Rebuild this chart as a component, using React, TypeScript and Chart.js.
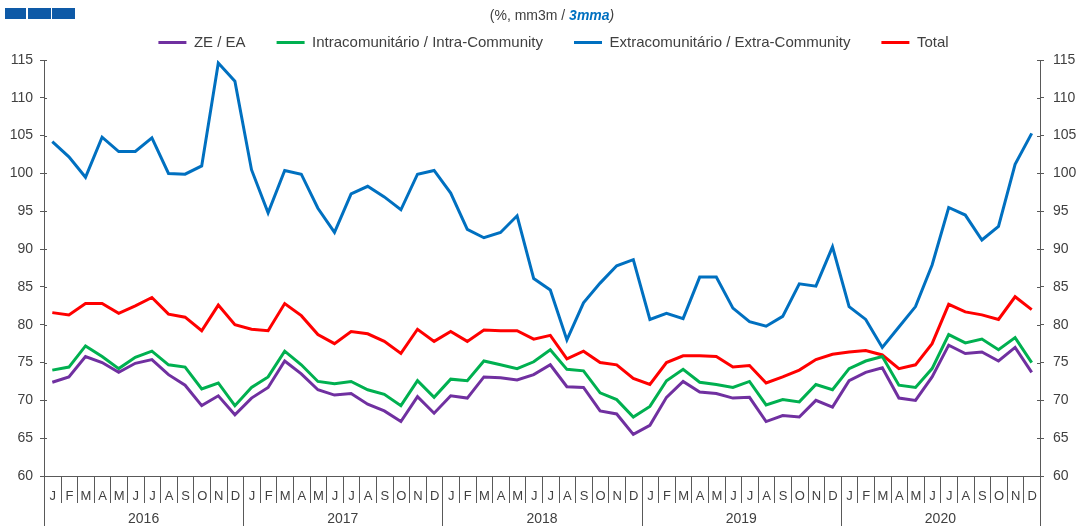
import React, { useEffect, useRef } from 'react';
import { Chart, registerables } from 'chart.js';

Chart.register(...registerables);

const monthLetters = ['J', 'F', 'M', 'A', 'M', 'J', 'J', 'A', 'S', 'O', 'N', 'D'];
const yearLabels = ['2016', '2017', '2018', '2019', '2020'];
const categories = yearLabels.flatMap((y) => monthLetters.map((m) => `${m} ${y}`));

const yTicks = [60, 65, 70, 75, 80, 85, 90, 95, 100, 105, 110, 115];

const zeEa = [
  72.4, 73.1, 75.8, 75.0, 73.7, 74.9, 75.4, 73.4, 72.0, 69.3, 70.6, 68.1,
  70.3, 71.7, 75.2, 73.5, 71.4, 70.7, 70.9, 69.5, 68.6, 67.2, 70.5, 68.3,
  70.6, 70.3, 73.1, 73.0, 72.7, 73.4, 74.7, 71.8, 71.7, 68.6, 68.2, 65.5,
  66.7, 70.4, 72.5, 71.1, 70.9, 70.3, 70.4, 67.2, 68.0, 67.8, 70.0, 69.1,
  72.6, 73.7, 74.3, 70.3, 70.0, 73.1, 77.3, 76.2, 76.4, 75.2, 77.0, 73.7,
];

const intra = [
  74.0, 74.4, 77.2, 75.8, 74.2, 75.7, 76.5, 74.7, 74.4, 71.5, 72.3, 69.3,
  71.7, 73.1, 76.5, 74.7, 72.5, 72.2, 72.5, 71.4, 70.8, 69.3, 72.6, 70.4,
  72.8, 72.6, 75.2, 74.7, 74.2, 75.1, 76.7, 74.1, 73.9, 71.0, 70.1, 67.8,
  69.2, 72.6, 74.1, 72.4, 72.1, 71.7, 72.5, 69.4, 70.1, 69.8, 72.1, 71.4,
  74.2, 75.2, 75.8, 72.0, 71.7, 74.2, 78.7, 77.6, 78.1, 76.7, 78.3, 75.0,
];

const extra = [
  104.2, 102.2, 99.5, 104.8, 102.9, 102.9, 104.7, 100.0, 99.9, 101.0, 114.6, 112.2,
  100.5, 94.8, 100.4, 99.9, 95.4, 92.2, 97.3, 98.3, 96.9, 95.2, 99.9, 100.4,
  97.4, 92.6, 91.5, 92.2, 94.4, 86.1, 84.6, 78.0, 82.9, 85.5, 87.8, 88.6,
  80.7, 81.5, 80.8, 86.3, 86.3, 82.2, 80.4, 79.8, 81.1, 85.4, 85.1, 90.3,
  82.4, 80.7, 77.0, 79.7, 82.4, 87.9, 95.5, 94.5, 91.2, 93.0, 101.2, 105.3,
];

const total = [
  81.6, 81.3, 82.8, 82.8, 81.5, 82.5, 83.6, 81.4, 81.0, 79.2, 82.6, 80.0,
  79.4, 79.2, 82.8, 81.2, 78.7, 77.5, 79.1, 78.8, 77.8, 76.2, 79.4, 77.8,
  79.1, 77.8, 79.3, 79.2, 79.2, 78.1, 78.6, 75.5, 76.5, 75.0, 74.7, 72.9,
  72.1, 75.0, 75.9, 75.9, 75.8, 74.4, 74.6, 72.3, 73.1, 74.0, 75.4, 76.1,
  76.4, 76.6, 76.0, 74.2, 74.7, 77.5, 82.7, 81.7, 81.3, 80.7, 83.7, 82.0,
];

const seriesNames = [
  'ZE / EA',
  'Intracomunitário / Intra-Community',
  'Extracomunitário / Extra-Community',
  'Total',
];
const seriesColors = ['#7030A0', '#00B050', '#0070C0', '#FF0000'];

const FONT = "'Liberation Sans', Arial, sans-serif";
const TEXT = '#404040';
const AXIS = '#595959';

const decorPlugin = {
  id: 'decor',
  afterDraw(chart: any) {
    const ctx = chart.ctx as CanvasRenderingContext2D;
    const xs = chart.scales.x;
    const ys = chart.scales.y;
    const { left, right, bottom } = chart.chartArea;
    const n = categories.length;
    const w = (right - left) / n;
    const H = chart.height;
    ctx.save();

    // month / year separators below the axis
    ctx.strokeStyle = AXIS;
    ctx.lineWidth = 1;
    for (let i = 0; i <= n; i++) {
      const px = i < n ? xs.getPixelForValue(i) - w / 2 : xs.getPixelForValue(n - 1) + w / 2;
      const xx = Math.round(px) + 0.5;
      const isYear = i % 12 === 0;
      ctx.beginPath();
      ctx.moveTo(xx, bottom);
      ctx.lineTo(xx, isYear ? H : bottom + 27);
      ctx.stroke();
    }
    // month letters
    ctx.fillStyle = TEXT;
    ctx.textAlign = 'center';
    ctx.textBaseline = 'middle';
    ctx.font = `13px ${FONT}`;
    for (let i = 0; i < n; i++) {
      ctx.fillText(monthLetters[i % 12], xs.getPixelForValue(i) + 0.5, bottom + 20);
    }
    // year labels
    ctx.font = `14px ${FONT}`;
    yearLabels.forEach((yl, k) => {
      const a = xs.getPixelForValue(k * 12) - w / 2;
      const b = xs.getPixelForValue(k * 12 + 11) + w / 2;
      ctx.fillText(yl, (a + b) / 2, bottom + 43);
    });

    // inner part of y tick marks
    ctx.strokeStyle = AXIS;
    yTicks.forEach((v) => {
      const yy = Math.round(ys.getPixelForValue(v)) + 0.5;
      ctx.beginPath();
      ctx.moveTo(left, yy);
      ctx.lineTo(left + 3, yy);
      ctx.moveTo(right - 3, yy);
      ctx.lineTo(right, yy);
      ctx.stroke();
    });

    // logo blocks
    ctx.fillStyle = '#0E5AA7';
    ctx.fillRect(5, 8, 21, 11);
    ctx.fillRect(28, 8, 23, 11);
    ctx.fillRect(52, 8, 23, 11);

    // subtitle
    const p1 = '(%, mm3m / ';
    const p2 = '3mma';
    const p3 = ')';
    ctx.textBaseline = 'middle';
    ctx.textAlign = 'left';
    ctx.font = `14px ${FONT}`;
    const w1 = ctx.measureText(p1).width;
    ctx.font = `italic bold 14px ${FONT}`;
    const w2 = ctx.measureText(p2).width;
    ctx.font = `italic 14px ${FONT}`;
    const w3 = ctx.measureText(p3).width;
    let sx = 552 - (w1 + w2 + w3) / 2;
    const sy = 16;
    ctx.font = `14px ${FONT}`;
    ctx.fillStyle = TEXT;
    ctx.fillText(p1, sx, sy);
    sx += w1;
    ctx.font = `italic bold 14px ${FONT}`;
    ctx.fillStyle = '#0070C0';
    ctx.fillText(p2, sx, sy);
    sx += w2;
    ctx.font = `italic 14px ${FONT}`;
    ctx.fillStyle = TEXT;
    ctx.fillText(p3, sx, sy);

    ctx.restore();
  },
};

export default function App() {
  const canvasRef = useRef<HTMLCanvasElement | null>(null);

  useEffect(() => {
    if (!canvasRef.current) return;
    const seriesData = [zeEa, intra, extra, total];
    const yAxisCommon = {
      type: 'linear' as const,
      min: 60,
      max: 115,
      grid: { drawOnChartArea: false, tickLength: 4, color: AXIS, lineWidth: 1 },
      border: { display: true, color: AXIS, width: 1 },
    };
    const chart = new Chart(canvasRef.current, {
      type: 'line',
      data: {
        labels: categories,
        datasets: seriesNames.map((name, i) => ({
          label: name,
          data: seriesData[i],
          borderColor: seriesColors[i],
          backgroundColor: seriesColors[i],
          borderWidth: 3,
          pointRadius: 0,
          pointHoverRadius: 0,
          tension: 0,
          fill: false,
          yAxisID: 'y',
        })),
      },
      options: {
        responsive: false,
        animation: false,
        devicePixelRatio: 1,
        layout: { padding: { top: 4, left: 0, right: -26, bottom: 0 } },
        plugins: {
          legend: {
            display: true,
            position: 'top',
            labels: {
              usePointStyle: true,
              pointStyle: 'line',
              pointStyleWidth: 28,
              padding: 31,
              color: TEXT,
              font: { family: FONT, size: 15 },
            },
          },
          tooltip: { enabled: false },
          title: { display: false },
        },
        scales: {
          x: {
            type: 'category',
            offset: true,
            grid: { display: false },
            border: { display: true, color: AXIS, width: 1 },
            ticks: { display: false },
            afterFit: (s: any) => {
              s.height = 50;
            },
          },
          y: {
            ...yAxisCommon,
            position: 'left',
            ticks: {
              stepSize: 5,
              padding: 7,
              color: TEXT,
              font: { family: FONT, size: 14 },
            },
            afterFit: (s: any) => {
              s.width = 44;
            },
          },
          y1: {
            ...yAxisCommon,
            position: 'right',
            ticks: {
              stepSize: 5,
              padding: 9,
              color: TEXT,
              font: { family: FONT, size: 14 },
            },
            afterFit: (s: any) => {
              s.width = 67;
            },
          },
        },
      },
      plugins: [decorPlugin],
    });
    return () => chart.destroy();
  }, []);

  return (
    <div style={{ position: 'fixed', left: 0, top: 0, width: 1081, height: 526, background: '#fff' }}>
      <canvas ref={canvasRef} width={1081} height={526} style={{ display: 'block' }} />
    </div>
  );
}
